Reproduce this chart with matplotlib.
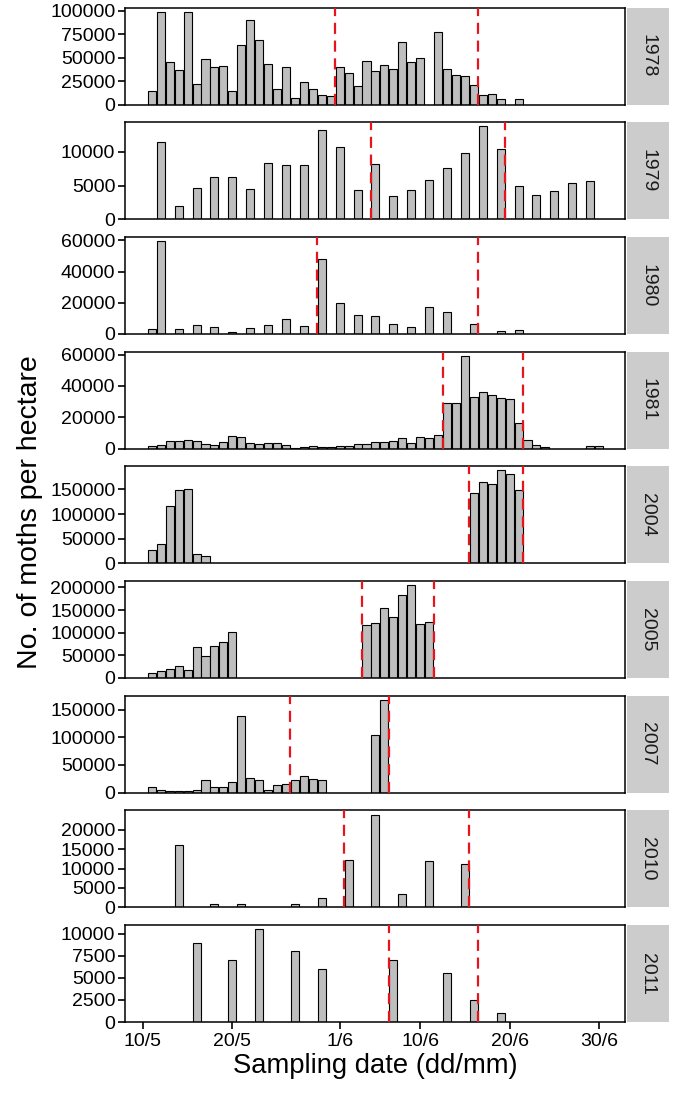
import matplotlib
matplotlib.use("Agg")
import matplotlib.pyplot as plt

plt.rcParams['font.family'] = ['Liberation Sans', 'DejaVu Sans']

# Day offsets are days after 10 May (0 = 10/5, 22 = 1/6, 51 = 30/6)
years = ["1978", "1979", "1980", "1981", "2004", "2005", "2007", "2010", "2011"]

days_1978 = list(range(1, 32)) + [33, 34, 35, 36, 37, 38, 39, 40, 42]
vals_1978 = [14000, 99000, 45000, 36500, 99000, 21600, 48600, 39700, 41500, 14200,
             63100, 90000, 68400, 43600, 16000, 40400, 7100, 24500, 17000, 9600,
             8900, 40400, 33300, 19500, 46800, 36200, 42200, 37900, 66700, 45700,
             49300, 77000, 37600, 31900, 30500, 20600, 10600, 11700, 6000, 6000]
lines_1978 = [21.5, 37.5]

days_1979 = [2, 4, 6, 8, 10, 12, 14, 16, 18, 20, 22, 24, 26, 28, 30, 32, 34, 36, 38, 40,
             42, 44, 46, 48, 50]
vals_1979 = [11500, 1900, 4600, 6250, 6300, 4450, 8400, 8100, 8000, 13300, 10700, 4300,
             8250, 3500, 4300, 5900, 7600, 9800, 13800, 10500, 4900, 3650, 4200, 5400, 5750]
lines_1979 = [25.5, 40.5]

days_1980 = [1, 2, 4, 6, 8, 10, 12, 14, 16, 18, 20, 22, 24, 26, 28, 30, 32, 34, 37, 40, 42]
vals_1980 = [3200, 59600, 3400, 5500, 4300, 1300, 4000, 6000, 9800, 4900, 48100, 19900,
             12100, 11200, 6200, 4500, 17000, 14200, 6600, 1900, 2300]
lines_1980 = [19.5, 37.5]

days_1981 = list(range(1, 46)) + [50, 51]
vals_1981 = [1700, 2500, 4600, 5050, 5700, 4850, 2950, 2500, 4000, 8000,
             7600, 3800, 3150, 3400, 3800, 2500, 300, 1300, 1700, 1000,
             1000, 1700, 1700, 3150, 3150, 4200, 4400, 4850, 6700, 3400,
             7150, 6700, 8600, 29300, 29300, 59200, 32800, 35800, 34100, 32000,
             31600, 16600, 5300, 2500, 800, 1500, 1500]
lines_1981 = [33.5, 42.5]

days_2004 = [1, 2, 3, 4, 5, 6, 7, 37, 38, 39, 40, 41, 42]
vals_2004 = [27700, 39900, 116900, 149300, 150700, 18200, 14200,
             142600, 165500, 161500, 188500, 181800, 148600]
lines_2004 = [36.5, 42.5]

days_2005 = [1, 2, 3, 4, 5, 6, 7, 8, 9, 10, 25, 26, 27, 28, 29, 30, 31, 32]
vals_2005 = [11700, 16100, 19000, 25600, 16800, 68900, 47600, 71100, 80600, 101100,
             116500, 120900, 154600, 134100, 183900, 205100, 119400, 123800]
lines_2005 = [24.5, 32.5]

days_2007 = list(range(1, 21)) + [26, 27]
vals_2007 = [10200, 4800, 2400, 2400, 2400, 5400, 22800, 9600, 9600, 19200,
             138000, 27000, 22200, 5400, 13800, 15000, 22200, 30600, 24600, 22800,
             104400, 167400]
lines_2007 = [16.5, 27.5]

days_2010 = [4, 8, 11, 17, 20, 23, 26, 29, 32, 36]
vals_2010 = [16000, 1000, 1000, 1000, 2500, 12300, 23900, 3500, 11900, 11200]
lines_2010 = [22.5, 36.5]

days_2011 = [6, 10, 13, 17, 20, 28, 34, 37, 40]
vals_2011 = [9000, 7000, 10500, 8000, 6000, 7000, 5500, 2500, 1000]
lines_2011 = [27.5, 37.5]

yticks = {
    "1978": [0, 25000, 50000, 75000, 100000],
    "1979": [0, 5000, 10000],
    "1980": [0, 20000, 40000, 60000],
    "1981": [0, 20000, 40000, 60000],
    "2004": [0, 50000, 100000, 150000],
    "2005": [0, 50000, 100000, 150000, 200000],
    "2007": [0, 50000, 100000, 150000],
    "2010": [0, 5000, 10000, 15000, 20000],
    "2011": [0, 2500, 5000, 7500, 10000],
}

xtick_pos = [0, 10, 22, 31, 41, 51]
xtick_labels = ["10/5", "20/5", "1/6", "10/6", "20/6", "30/6"]

data = {
    "1978": (days_1978, vals_1978, lines_1978),
    "1979": (days_1979, vals_1979, lines_1979),
    "1980": (days_1980, vals_1980, lines_1980),
    "1981": (days_1981, vals_1981, lines_1981),
    "2004": (days_2004, vals_2004, lines_2004),
    "2005": (days_2005, vals_2005, lines_2005),
    "2007": (days_2007, vals_2007, lines_2007),
    "2010": (days_2010, vals_2010, lines_2010),
    "2011": (days_2011, vals_2011, lines_2011),
}

W, H = 675, 1094
fig = plt.figure(figsize=(W / 100, H / 100), dpi=100)

left_px, right_px = 125, 625
strip_l, strip_r = 627, 669
top0, step, ph = 7.5, 114.7, 97

for k, yr in enumerate(years):
    days, vals, lines = data[yr]
    top = top0 + k * step
    ax = fig.add_axes([left_px / W, 1 - (top + ph) / H, (right_px - left_px) / W, ph / H])
    ax.bar(days, vals, width=0.9, color="#bebebe", edgecolor="black", linewidth=0.8, zorder=2)
    for xl in lines:
        ax.axvline(xl, color="#e8141c", linestyle=(0, (5, 3)), linewidth=1.6, zorder=3)
    ax.set_xlim(-2.0, 53.9)
    ax.set_ylim(0, max(vals) * 1.045)
    ax.set_yticks(yticks[yr])
    ax.set_yticklabels([str(t) for t in yticks[yr]])
    ax.tick_params(axis="y", length=5, width=1.2, labelsize=14, pad=2, color="black")
    for sp in ax.spines.values():
        sp.set_linewidth(1.1)
        sp.set_color("black")
    if k == len(years) - 1:
        ax.set_xticks(xtick_pos)
        ax.set_xticklabels(xtick_labels)
        ax.tick_params(axis="x", length=5, width=1.2, labelsize=14, pad=3)
        ax.set_xlabel("Sampling date (dd/mm)", fontsize=19.7, labelpad=2)
    else:
        ax.set_xticks([])
    # strip
    sax = fig.add_axes([strip_l / W, 1 - (top + ph) / H, (strip_r - strip_l) / W, ph / H])
    sax.set_xticks([]); sax.set_yticks([])
    sax.set_facecolor("#cccccc")
    for sp in sax.spines.values():
        sp.set_visible(False)
    sax.text(0.5, 0.5, yr, rotation=-90, ha="center", va="center", fontsize=14,
             color="#1a1a1a", transform=sax.transAxes)

fig.text(30 / W, 1 - 512 / H, "No. of moths per hectare", rotation=90, ha="center",
         va="center", fontsize=20.5)

fig.savefig("out.png", dpi=100)
